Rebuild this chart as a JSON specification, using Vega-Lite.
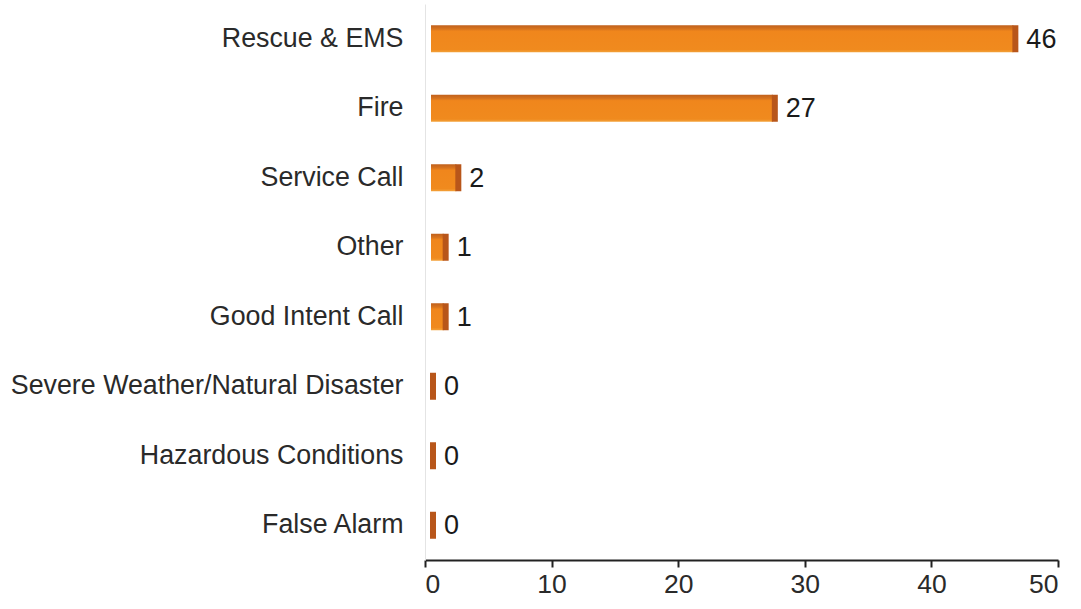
{
  "$schema": "https://vega.github.io/schema/vega-lite/v6.json",
  "autosize": {"type": "none"},
  "width": 633,
  "height": 556,
  "padding": {"left": 425, "top": 4, "right": 23, "bottom": 49},
  "background": "white",
  "config": {"view": {"stroke": null}, "font": "Liberation Sans"},
  "data": {"values": [
    {"cat": "Rescue & EMS", "value": 46},
    {"cat": "Fire", "value": 27},
    {"cat": "Service Call", "value": 2},
    {"cat": "Other", "value": 1},
    {"cat": "Good Intent Call", "value": 1},
    {"cat": "Severe Weather/Natural Disaster", "value": 0},
    {"cat": "Hazardous Conditions", "value": 0},
    {"cat": "False Alarm", "value": 0}
  ]},
  "encoding": {
    "y": {"field": "cat", "type": "nominal", "sort": null, "title": null,
      "axis": {"labelFontSize": 26.8, "labelColor": "#2a2a2a", "labelPadding": 22, "ticks": false, "labelLimit": 0,
        "domainColor": "#e4e4e4", "domainWidth": 1, "labelFont": "Liberation Sans"}}
  },
  "layer": [
    {
      "mark": {"type": "bar", "size": 27, "xOffset": 6, "x2Offset": 6,
        "fill": {"gradient": "linear", "x1": 0, "y1": 0, "x2": 0, "y2": 1,
          "stops": [
            {"offset": 0, "color": "#c0601c"},
            {"offset": 0.14, "color": "#d8741e"},
            {"offset": 0.22, "color": "#f0861c"},
            {"offset": 0.9, "color": "#f08a1e"},
            {"offset": 1, "color": "#f3a23a"}
          ]}},
      "encoding": {
        "x": {"field": "value", "type": "quantitative", "scale": {"domain": [0, 50], "nice": false},
          "title": null,
          "axis": {"values": [0, 10, 20, 30, 40, 50], "grid": false, "domainColor": "#222", "domainWidth": 2,
            "tickColor": "#222", "tickWidth": 2, "tickSize": 7, "labelFontSize": 26.5, "labelColor": "#2a2a2a",
            "labelPadding": 4, "labelFont": "Liberation Sans"}},
        "x2": {"datum": 0}
      }
    },
    {
      "mark": {"type": "bar", "size": 27, "xOffset": 5, "x2Offset": 11, "fill": "#b8561a"},
      "encoding": {
        "x": {"field": "value", "type": "quantitative"},
        "x2": {"field": "value"}
      }
    },
    {
      "mark": {"type": "text", "align": "left", "baseline": "middle", "dx": 19, "dy": 1, "fontSize": 27, "color": "#1a1a1a", "font": "Liberation Sans"},
      "encoding": {
        "x": {"field": "value", "type": "quantitative"},
        "text": {"field": "value", "type": "quantitative"}
      }
    }
  ]
}
